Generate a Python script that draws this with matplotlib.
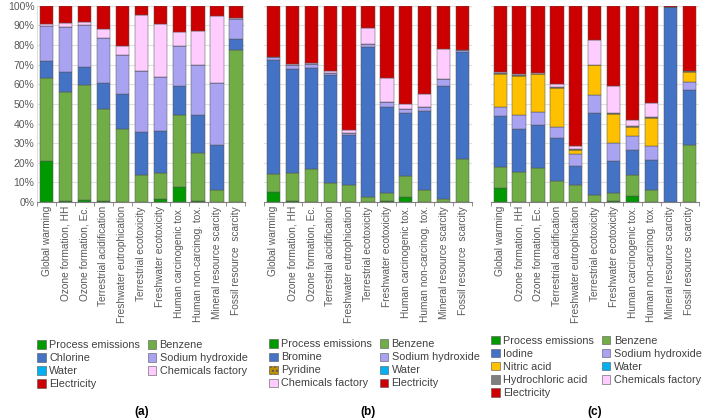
import numpy as np
import matplotlib.pyplot as plt
from matplotlib.patches import Patch

plt.rcParams['font.family'] = ['Liberation Sans', 'DejaVu Sans']

categories = ['Global warming', 'Ozone formation, HH', 'Ozone formation, Ec.',
              'Terrestrial acidification', 'Freshwater eutrophication',
              'Terrestrial ecotoxicity', 'Freshwater ecotoxicity',
              'Human carcinogenic tox.', 'Human non-carcinog. tox.',
              'Mineral resource scarcity', 'Fossil resource  scarcity']

# panel (a) shares in %
a_process = [21, 0.7, 1, 0.3, 0, 0, 1.5, 7.5, 0.3, 0, 0]
a_benzene = [42, 55.3, 58.5, 47, 37, 13.7, 13.5, 37, 24.7, 6, 77.5]
a_chlorine = [9, 10.3, 9.5, 13.4, 18, 22, 21, 14.8, 19.3, 23.3, 5.5]
a_naoh = [17.5, 22.7, 21, 22.8, 20, 31.3, 27.5, 20.2, 25.5, 31.5, 10.5]
a_water = [0, 0, 0, 0, 0, 0, 0, 0, 0, 0, 0]
a_factory = [1, 2.2, 2, 4.5, 4.3, 28.3, 27.5, 7, 17.2, 34.2, 0.5]
a_elec = [9.5, 8.8, 8, 12, 20.7, 4.7, 9, 13.5, 13, 5, 6]

# panel (b)
b_process = [5, 0.3, 0, 0, 0, 0, 0.3, 2.5, 0, 0, 0]
b_benzene = [9.5, 14.4, 16.7, 9.7, 8.5, 2.3, 4.2, 10.5, 6.3, 1.5, 22]
b_bromine = [58, 53, 51.8, 55, 25.5, 76.9, 43.7, 32.5, 40, 57.8, 54.7]
b_naoh = [1.2, 1.9, 1.7, 1, 1.2, 1.3, 2.8, 1.8, 2, 3.2, 0.6]
b_pyridine = [0, 0, 0, 0, 0, 0, 0, 0, 0, 0, 0]
b_water = [0, 0, 0, 0, 0, 0, 0, 0, 0, 0, 0]
b_factory = [0.3, 0.9, 0.8, 1, 1.3, 8.2, 12, 2.7, 7, 15.5, 0.2]
b_elec = [26, 29.5, 29, 33.3, 63.5, 11.3, 37, 50, 44.7, 22, 22.5]

# panel (c)
c_process = [7.3, 0, 0, 0, 0, 0, 0.5, 2.8, 0, 0, 0]
c_benzene = [10.5, 15.3, 17.3, 10.5, 8.8, 3.5, 4, 10.9, 6.3, 0, 29.3]
c_iodine = [26.2, 22, 21.7, 22, 9.7, 42, 16.2, 12.8, 15, 99.5, 27.9]
c_naoh = [4.3, 7, 7, 5.5, 5.8, 9.2, 9.3, 7, 7.2, 0, 4.1]
c_nitric = [17.2, 19.7, 19, 20.3, 2, 14.9, 14.8, 4.5, 14.5, 0, 5]
c_water = [0, 0, 0, 0, 0, 0, 0, 0, 0, 0, 0]
c_hcl = [0.5, 0.5, 0.5, 0.4, 0.5, 0.4, 0.5, 0.5, 0.5, 0, 0.3]
c_factory = [0.5, 0.5, 0.5, 1.3, 1.5, 12.5, 13.7, 3.3, 7, 0, 0.3]
c_elec = [33.5, 35, 34, 40, 71.7, 17.5, 41, 58.2, 49.5, 0.5, 33.1]

col = {'Process emissions': '#009a00', 'Benzene': '#70ad47',
       'Chlorine': '#4472c4', 'Bromine': '#4472c4', 'Iodine': '#4472c4',
       'Sodium hydroxide': '#a9a3f2', 'Water': '#00b0f0',
       'Chemicals factory': '#ffccff', 'Electricity': '#cc0000',
       'Pyridine': '#c09000', 'Nitric acid': '#ffc000',
       'Hydrochloric acid': '#7f7f7f'}

panels = [
    ([('Process emissions', a_process), ('Benzene', a_benzene), ('Chlorine', a_chlorine),
      ('Sodium hydroxide', a_naoh), ('Water', a_water), ('Chemicals factory', a_factory),
      ('Electricity', a_elec)],
     ['Process emissions', 'Chlorine', 'Water', 'Electricity',
      'Benzene', 'Sodium hydroxide', 'Chemicals factory']),
    ([('Process emissions', b_process), ('Benzene', b_benzene), ('Bromine', b_bromine),
      ('Sodium hydroxide', b_naoh), ('Pyridine', b_pyridine), ('Water', b_water),
      ('Chemicals factory', b_factory), ('Electricity', b_elec)],
     ['Process emissions', 'Bromine', 'Pyridine', 'Chemicals factory',
      'Benzene', 'Sodium hydroxide', 'Water', 'Electricity']),
    ([('Process emissions', c_process), ('Benzene', c_benzene), ('Iodine', c_iodine),
      ('Sodium hydroxide', c_naoh), ('Nitric acid', c_nitric), ('Water', c_water),
      ('Hydrochloric acid', c_hcl), ('Chemicals factory', c_factory),
      ('Electricity', c_elec)],
     ['Process emissions', 'Iodine', 'Nitric acid', 'Hydrochloric acid', 'Electricity',
      'Benzene', 'Sodium hydroxide', 'Water', 'Chemicals factory']),
]

fig = plt.figure(figsize=(7.03, 4.19), dpi=100)
lefts = [0.053, 0.3755, 0.698]
width = 0.296
leg_x = [0.053, 0.383, 0.699]
leg_y = [0.188, 0.19, 0.198]
labels = ['(a)', '(b)', '(c)']
x = np.arange(len(categories))

for i, (series, leg_order) in enumerate(panels):
    ax = fig.add_axes([lefts[i], 0.518, width, 0.468])
    bottom = np.zeros(len(categories))
    for name, vals in series:
        vals = np.array(vals, dtype=float)
        hatch = '....' if name == 'Pyridine' else None
        ax.bar(x, vals, 0.7, bottom=bottom, color=col[name], edgecolor='#555555',
               linewidth=0.35, hatch=hatch, zorder=3)
        bottom += vals
    ax.set_xlim(-0.5, len(categories) - 0.5)
    ax.set_ylim(0, 100)
    ax.set_yticks(np.arange(0, 101, 10))
    ax.yaxis.grid(True, color='#e0e0e0', linewidth=0.8, zorder=0)
    ax.set_xticks(x)
    ax.set_xticklabels(categories, rotation=90, fontsize=7.3, color='#595959')
    ax.set_xticks(np.arange(-0.5, len(categories)), minor=True)
    ax.tick_params(axis='x', which='major', length=0, pad=3)
    ax.tick_params(axis='x', which='minor', length=3, color='#808080')
    for s in ['top', 'right']:
        ax.spines[s].set_visible(False)
    ax.spines['bottom'].set_color('#808080')
    ax.spines['left'].set_color('#e0e0e0')
    if i == 0:
        ax.set_yticklabels([f'{v}%' for v in range(0, 101, 10)], fontsize=7.5, color='#595959')
        ax.tick_params(axis='y', length=0, pad=2)
    else:
        ax.spines['left'].set_visible(False)
        ax.tick_params(axis='y', length=0, labelleft=False)

    handles = []
    for name in leg_order:
        hatch = '....' if name == 'Pyridine' else None
        handles.append(Patch(facecolor=col[name], edgecolor='#555555', linewidth=0.4,
                             hatch=hatch, label=name))
    fig.legend(handles=handles, loc='upper left', bbox_to_anchor=(leg_x[i], leg_y[i]),
               ncol=2, frameon=False, fontsize=7.8, handlelength=0.8, handleheight=0.8,
               handletextpad=0.3, columnspacing=0.7, labelspacing=0.28,
               borderpad=0, borderaxespad=0, labelcolor='#404040')
    fig.text(lefts[i] + width / 2, 0.01, labels[i], ha='center', fontsize=8.5,
             fontweight='bold')

fig.savefig('out.png', dpi=100)
